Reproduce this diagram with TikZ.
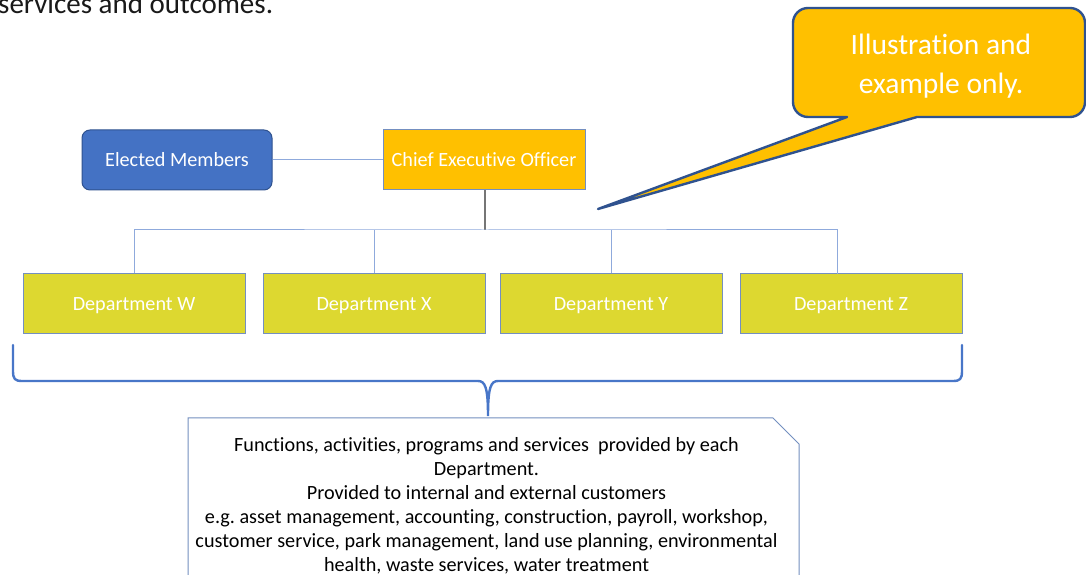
\documentclass[tikz,border=0pt]{standalone}
\usepackage{fontspec}
\setmainfont{Carlito}[Ligatures=NoCommon]
\usetikzlibrary{positioning}
\frenchspacing

\definecolor{memberBlue}{RGB}{68,114,196}
\definecolor{memberEdge}{RGB}{47,82,143}
\definecolor{ceoGold}{RGB}{255,192,0}
\definecolor{deptLime}{RGB}{221,216,48}
\definecolor{edgeBlue}{RGB}{116,143,192}
\definecolor{busBlue}{RGB}{143,170,220}
\definecolor{dropGray}{RGB}{118,118,118}
\definecolor{braceBlue}{RGB}{72,118,200}

\tikzset{
  orgbox/.style={draw=edgeBlue,line width=1pt,text=white,inner sep=0pt,
    minimum height=60,text height=12.5pt,text depth=0pt,font=\fontsize{20.2}{24}\selectfont},
  memberbox/.style={orgbox,fill=memberBlue,draw=memberEdge,rounded corners=8,minimum width=190},
  ceobox/.style={orgbox,fill=ceoGold,minimum width=202},
  deptbox/.style={orgbox,fill=deptLime,minimum width=222},
  busline/.style={draw=busBlue,line width=1pt},
}

\begin{document}
\begin{tikzpicture}[x=1pt,y=1pt]
\path[use as bounding box,fill=white] (0,0) rectangle (1086,575);
\clip (0,0) rectangle (1086,575);

% heading cut at the top
\node[anchor=base west,inner sep=0pt,font=\fontsize{29}{34}\selectfont,text=black!90] (intro) at (-2,561.5) {services and outcomes.};

% top row
\node[memberbox] (elected) at (177,415) {Elected Members};
\node[ceobox] (ceo) at (484,415) {Chief Executive Officer};
\draw[busline] (elected.east) -- (ceo.west);

% departments
\node[deptbox] (deptW) at (134,271) {Department W};
\node[deptbox] (deptX) at (374,271) {Department X};
\node[deptbox] (deptY) at (611,271) {Department Y};
\node[deptbox] (deptZ) at (851,271) {Department Z};

\coordinate (bus) at (485,345);
\coordinate (dropZ) at (837,301);
\draw[draw=dropGray,line width=1.2pt] (ceo.south -| bus) -- (bus);
\draw[busline] (deptW.north) |- (bus) -| (dropZ);
\draw[busline] (deptX.north) -- (deptX.north |- bus);
\draw[busline] (deptY.north) -- (deptY.north |- bus);

% brace under the departments
\draw[draw=braceBlue,line width=2.4pt,line cap=round]
  (13,230) -- (13,204) .. controls (13,196) and (15,194) .. (22,194)
  -- (478,194) .. controls (485,194) and (488,188) .. (488,159)
  .. controls (488,188) and (491,194) .. (498,194)
  -- (953,194) .. controls (960,194) and (962,196) .. (962,204) -- (962,230);

% services box, cut at the bottom
\draw[draw=edgeBlue,line width=1pt,fill=white]
  (188,-5) -- (188,157) -- (773,157) -- (799,131) -- (799,-5);
\node[anchor=north,inner sep=0pt,align=center,font=\fontsize{20.2}{24}\selectfont] (services) at (486.5,138)
  {Functions, activities, programs and services\ \ provided by each\\
   Department.\\
   Provided to internal and external customers\\
   e.g. asset management, accounting, construction, payroll, workshop,\\
   customer service, park management, land use planning, environmental\\
   health, waste services, water treatment};

% callout
\draw[draw=memberEdge,line width=2.4pt,fill=ceoGold,line join=round]
  (847,458) -- (808,458) arc[start angle=270,end angle=180,radius=15]
  -- (793,552) arc[start angle=180,end angle=90,radius=15]
  -- (1070,567) arc[start angle=90,end angle=0,radius=15]
  -- (1085,473) arc[start angle=0,end angle=-90,radius=15]
  -- (917,458) -- (598,366) -- cycle;
\node[align=center,inner sep=0pt,text=white,font=\fontsize{29.5}{39}\selectfont] (note) at (941,508.5)
  {Illustration and\\example only.};
\end{tikzpicture}
\end{document}
